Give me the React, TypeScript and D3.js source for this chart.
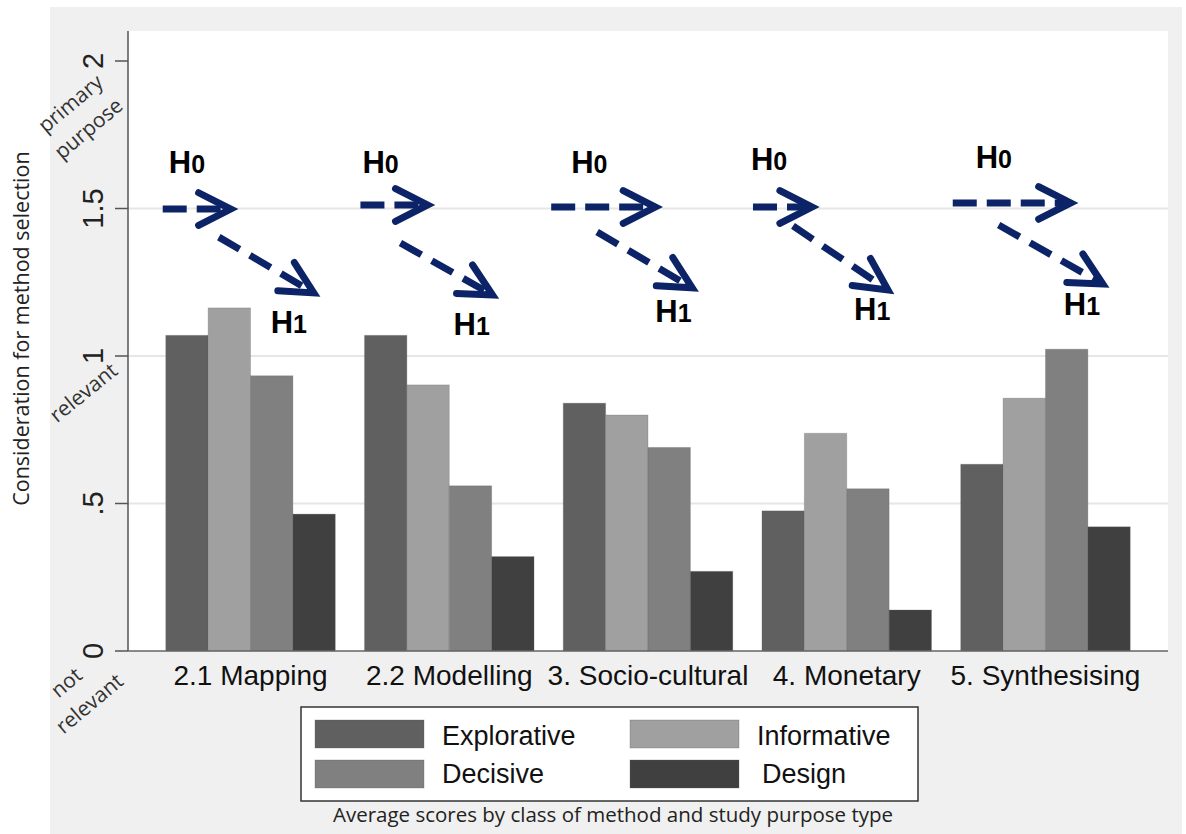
import React from "react";
import * as d3 from "d3";

// ---- data ----
const categories = ["2.1 Mapping", "2.2 Modelling", "3. Socio-cultural", "4. Monetary", "5. Synthesising"];
const seriesNames = ["Explorative", "Informative", "Decisive", "Design"];
const explorative = [1.07, 1.07, 0.84, 0.475, 0.633];
const informative = [1.163, 0.902, 0.80, 0.738, 0.857];
const decisive = [0.933, 0.56, 0.69, 0.55, 1.023];
const design = [0.464, 0.32, 0.27, 0.139, 0.421];
const seriesValues = [explorative, informative, decisive, design];
const seriesColors = ["#606060", "#a0a0a0", "#808080", "#404040"];

const yTickValues = [0, 0.5, 1, 1.5, 2];
const yTickLabels = ["0", ".5", "1", "1.5", "2"];
const gridValues = [0.5, 1, 1.5];

// H0 / H1 annotations per group: x as fraction of group band, y in data units
const h0Arrows = [
  { x0: -0.018, x1: 0.383, v0: 1.498, v1: 1.498 },
  { x0: -0.024, x1: 0.372, v0: 1.512, v1: 1.512 },
  { x0: -0.071, x1: 0.543, v0: 1.505, v1: 1.505 },
  { x0: -0.053, x1: 0.295, v0: 1.505, v1: 1.505 },
  { x0: -0.047, x1: 0.649, v0: 1.519, v1: 1.519 },
];
const h1Arrows = [
  { x0: 0.313, x1: 0.873, v0: 1.403, v1: 1.214 },
  { x0: 0.212, x1: 0.755, v0: 1.383, v1: 1.207 },
  { x0: 0.2, x1: 0.761, v0: 1.42, v1: 1.231 },
  { x0: 0.183, x1: 0.743, v0: 1.441, v1: 1.224 },
  { x0: 0.224, x1: 0.838, v0: 1.444, v1: 1.244 },
];
const h0Labels = [
  { x: 0.018, v: 1.62 },
  { x: -0.012, v: 1.62 },
  { x: 0.047, v: 1.62 },
  { x: -0.065, v: 1.631 },
  { x: 0.088, v: 1.637 },
];
const h1Labels = [
  { x: 0.619, v: 1.078 },
  { x: 0.525, v: 1.071 },
  { x: 0.543, v: 1.115 },
  { x: 0.543, v: 1.122 },
  { x: 0.608, v: 1.139 },
];

const W = 1186;
const H = 834;
const plotLeft = 128;
const plotRight = 1168;
const navy = "#0c2467";

function Arrow({ x0, y0, x1, y1, dash }: { x0: number; y0: number; x1: number; y1: number; dash: string }) {
  const ang = Math.atan2(y1 - y0, x1 - x0);
  const L = 36;
  const a = (27 * Math.PI) / 180;
  const ax = x1 - L * Math.cos(ang - a);
  const ay = y1 - L * Math.sin(ang - a);
  const bx = x1 - L * Math.cos(ang + a);
  const by = y1 - L * Math.sin(ang + a);
  const sx = x1 - 4 * Math.cos(ang);
  const sy = y1 - 4 * Math.sin(ang);
  return (
    <g>
      <line x1={x0} y1={y0} x2={sx} y2={sy} stroke={navy} strokeWidth={7} strokeDasharray={dash} />
      <path d={`M${ax},${ay}L${x1},${y1}L${bx},${by}`} fill="none" stroke={navy} strokeWidth={7} strokeLinecap="round" strokeLinejoin="miter" />
    </g>
  );
}

function HLabel({ x, y, sub }: { x: number; y: number; sub: string }) {
  return (
    <text x={x} y={y} fontFamily="'Liberation Sans', Arial, sans-serif" fontWeight="bold" fill="#000">
      <tspan fontSize={31}>H</tspan>
      <tspan fontSize={25}>{sub}</tspan>
    </text>
  );
}

export default function App() {
  const y = d3.scaleLinear().domain([0, 2]).range([651, 61]);
  const x0 = d3.scaleBand<string>().domain(categories).range([plotLeft, plotRight]).paddingInner(0.147).paddingOuter(0.19);
  const x1 = d3.scaleBand<string>().domain(seriesNames).range([0, x0.bandwidth()]).padding(0);
  const bw = x0.bandwidth();
  const fx = (i: number, f: number) => (x0(categories[i]) as number) + f * bw;

  const sans = "'Liberation Sans', Arial, sans-serif";
  const open = "'Open Sans', sans-serif";

  return (
    <svg width={W} height={H} style={{ position: "absolute", left: 0, top: 0, background: "#fff" }}>
      {/* outer gray panel */}
      <rect x={50} y={7} width={1132} height={827} fill="#f0f0f0" />
      {/* plot region */}
      <rect x={plotLeft} y={y(2.1017)} width={plotRight - plotLeft} height={y(0) - y(2.1017)} fill="#fff" />
      {/* gridlines */}
      {gridValues.map((v) => (
        <line key={v} x1={plotLeft} x2={plotRight} y1={y(v)} y2={y(v)} stroke="#e6e6e6" strokeWidth={2} />
      ))}
      {/* bars */}
      {categories.map((c, i) => (
        <g key={c} transform={`translate(${x0(c)},0)`}>
          {seriesNames.map((s, j) => (
            <rect
              key={s}
              x={x1(s)}
              y={y(seriesValues[j][i])}
              width={x1.bandwidth()}
              height={y(0) - y(seriesValues[j][i])}
              fill={seriesColors[j]}
              stroke="#5a5a5a"
              strokeOpacity={0.25}
              strokeWidth={1}
            />
          ))}
        </g>
      ))}
      {/* axis lines */}
      <line x1={plotLeft} x2={plotLeft} y1={y(2.1017)} y2={y(0)} stroke="#555" strokeWidth={1.5} />
      <line x1={plotLeft} x2={plotRight} y1={y(0)} y2={y(0)} stroke="#666" strokeWidth={1.5} />
      {yTickValues.map((v, i) => (
        <g key={v}>
          <line x1={115} x2={plotLeft} y1={y(v)} y2={y(v)} stroke="#555" strokeWidth={1.5} />
          <text
            transform={`translate(103,${y(v)}) rotate(-90)`}
            textAnchor="middle"
            fontFamily={sans}
            fontSize={29}
            fill="#222"
          >
            {yTickLabels[i]}
          </text>
        </g>
      ))}
      {/* descriptive y labels */}
      <g fontFamily={open} fontSize={21} fill="#333" textAnchor="middle" dominantBaseline="central">
        <text transform={`translate(70,${y(2) + 42}) rotate(-40)`}>primary</text>
        <text transform={`translate(88,${y(2) + 67}) rotate(-40)`}>purpose</text>
        <text transform={`translate(83,${y(1) + 36}) rotate(-39)`}>relevant</text>
        <text transform={`translate(66,${y(0) + 31}) rotate(-40)`}>not</text>
        <text transform={`translate(89,${y(0) + 52}) rotate(-40)`}>relevant</text>
      </g>
      {/* y title */}
      <text
        transform={`translate(29,${y(1.093)}) rotate(-90)`}
        textAnchor="middle"
        fontFamily={open}
        fontSize={21.5}
        fill="#222"
      >
        Consideration for method selection
      </text>
      {/* x labels */}
      {categories.map((c) => (
        <text key={c} x={(x0(c) as number) + bw / 2} y={685} textAnchor="middle" fontFamily={sans} fontSize={28} fill="#111">
          {c}
        </text>
      ))}
      {/* annotations */}
      {h0Arrows.map((a, i) => (
        <Arrow key={"h0" + i} x0={fx(i, a.x0)} y0={y(a.v0)} x1={fx(i, a.x1)} y1={y(a.v1)} dash="24 10" />
      ))}
      {h1Arrows.map((a, i) => (
        <Arrow key={"h1" + i} x0={fx(i, a.x0)} y0={y(a.v0)} x1={fx(i, a.x1)} y1={y(a.v1)} dash="24 12" />
      ))}
      {h0Labels.map((l, i) => (
        <HLabel key={"l0" + i} x={fx(i, l.x)} y={y(l.v)} sub="0" />
      ))}
      {h1Labels.map((l, i) => (
        <HLabel key={"l1" + i} x={fx(i, l.x)} y={y(l.v)} sub="1" />
      ))}
      {/* legend */}
      <rect x={301} y={707} width={617} height={94} fill="#fff" stroke="#333" strokeWidth={1.5} />
      {seriesNames.map((s, j) => {
        const col = j % 2;
        const row = Math.floor(j / 2);
        const sx = col === 0 ? 315 : 630;
        const sy = row === 0 ? 720 : 760;
        const tx = col === 0 ? 442 : j === 3 ? 762 : 757;
        return (
          <g key={s}>
            <rect x={sx} y={sy} width={109} height={28} fill={seriesColors[j]} stroke="#555" strokeOpacity={0.3} />
            <text x={tx} y={row === 0 ? 745 : 783} fontFamily={sans} fontSize={27} fill="#111">
              {s}
            </text>
          </g>
        );
      })}
      {/* caption */}
      <text x={613} y={822} textAnchor="middle" fontFamily={open} fontSize={20.5} fill="#222">
        Average scores by class of method and study purpose type
      </text>
    </svg>
  );
}
